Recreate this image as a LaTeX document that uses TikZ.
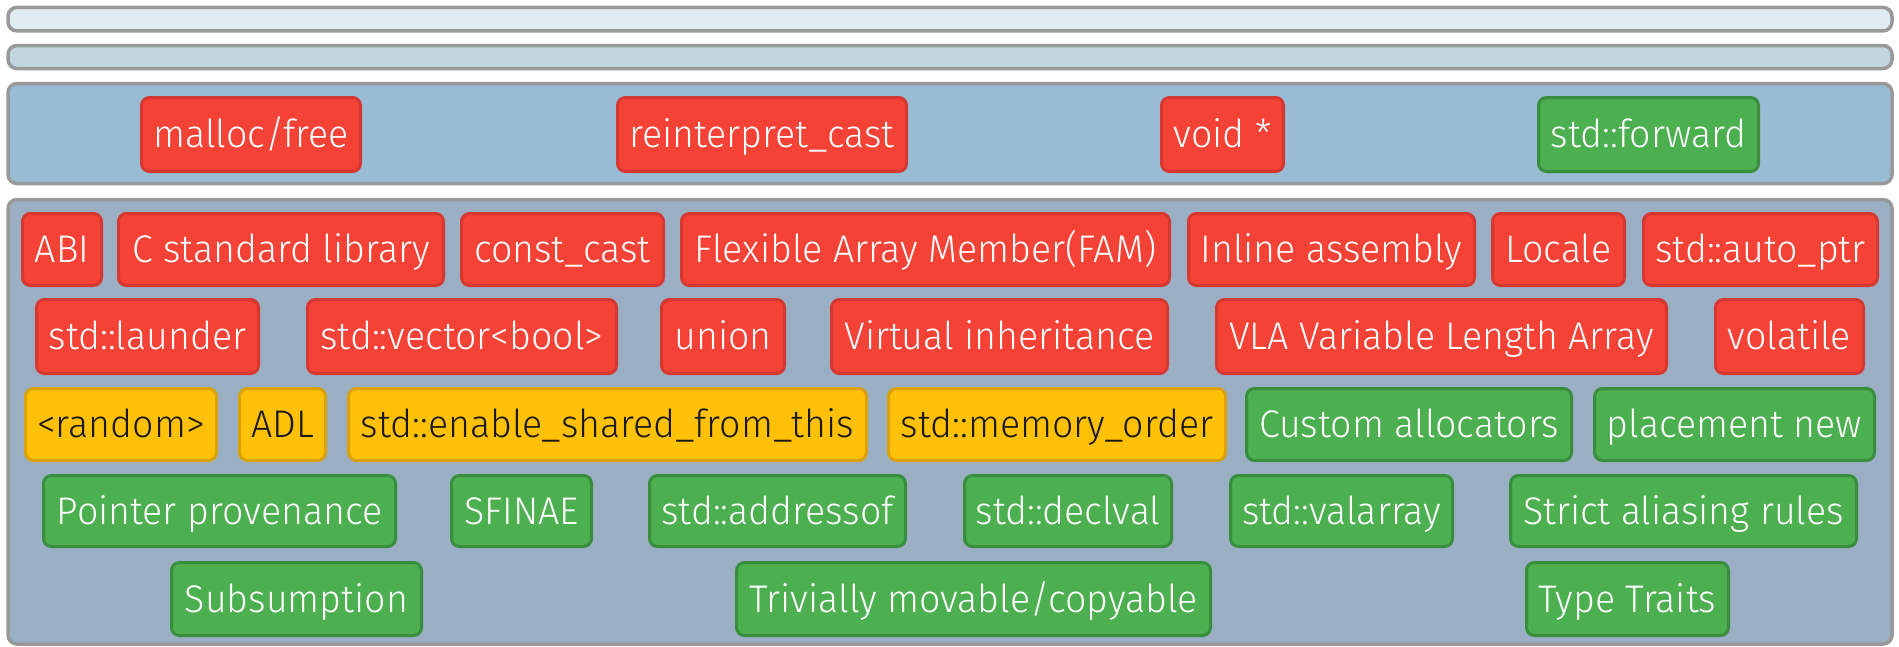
\documentclass[tikz,border=0pt]{standalone}
\usepackage{fontspec}
\IfFileExists{FiraSans-Light.otf}
  {\setmainfont{FiraSans-Light.otf}[FakeStretch=0.975]}
  {\IfFontExistsTF{Fira Sans Light}
    {\setmainfont{Fira Sans Light}[FakeStretch=0.975]}
    {\setmainfont{Fira Sans}[FakeStretch=0.975]}}

\definecolor{tierA}{HTML}{E1ECF2}
\definecolor{tierB}{HTML}{C2D6E0}
\definecolor{tierC}{HTML}{98BCD4}
\definecolor{tierD}{HTML}{9AAFC4}
\definecolor{tierline}{HTML}{999999}
\definecolor{redfill}{HTML}{F44336}
\definecolor{redline}{HTML}{D63730}
\definecolor{greenfill}{HTML}{4CAF50}
\definecolor{greenline}{HTML}{388E3C}
\definecolor{amberfill}{HTML}{FFC107}
\definecolor{amberline}{HTML}{D9A20B}

\tikzset{
  tier/.style={draw=tierline, line width=3.5pt, rounded corners=9pt, inner sep=0pt},
  tag/.style={line width=3pt, rounded corners=8pt, inner sep=0pt,
    font=\fontsize{38.5}{42}\selectfont, text height=26.5pt, text depth=0pt},
  bad/.style={tag, fill=redfill, draw=redline, text=white},
  warn/.style={tag, fill=amberfill, draw=amberline, text=black!90},
  good/.style={tag, fill=greenfill, draw=greenline, text=white},
}

% #1 name, #2 style, #3 left, #4 right, #5 top, #6 bottom (outer edges), #7 text
\newcommand\placebox[7]{%
  \node[#2, minimum width={(#4-#3-3)*1pt}, minimum height={(#6-#5-3)*1pt}]
    (#1) at ({(#3+#4)/2},{(#5+#6)/2}) {#7};}

\begin{document}
\begin{tikzpicture}[x=1pt,y=-1pt]
\useasboundingbox (0,0) rectangle (1899,646);

% tiers
\node[tier, fill=tierA, minimum width=1884pt, minimum height=23.5pt] (t1) at (950,19.2) {};
\node[tier, fill=tierB, minimum width=1884pt, minimum height=23pt] (t2) at (950,57) {};
\node[tier, fill=tierC, minimum width=1884pt, minimum height=100pt] (t3) at (950,133.5) {};
\node[tier, fill=tierD, minimum width=1884pt, minimum height=444.5pt] (t4) at (950,421.8) {};

% third tier
\placebox{malloc}{bad}{140}{362}{96}{173}{malloc/free}
\placebox{reinterpret}{bad}{616}{908}{96}{173}{reinterpret\_cast}
\placebox{voidptr}{bad}{1160}{1285}{96}{173}{void *}
\placebox{forward}{good}{1537}{1760}{96}{173}{std::forward}

% fourth tier, row 1
\placebox{abi}{bad}{21}{103}{212}{287}{ABI}
\placebox{clib}{bad}{117}{445}{212}{287}{C standard library}
\placebox{constcast}{bad}{460}{665}{212}{287}{const\_cast}
\placebox{fam}{bad}{680}{1171}{212}{287}{Flexible Array Member(FAM)}
\placebox{asm}{bad}{1187}{1476}{212}{287}{Inline assembly}
\placebox{locale}{bad}{1491}{1626}{212}{287}{Locale}
\placebox{autoptr}{bad}{1642}{1879}{212}{287}{std::auto\_ptr}

% row 2
\placebox{launder}{bad}{35}{260}{298}{375}{std::launder}
\placebox{vecbool}{bad}{306}{618}{298}{375}{std::vector<bool>}
\placebox{union}{bad}{660}{786}{298}{375}{union}
\placebox{virtinh}{bad}{830}{1169}{298}{375}{Virtual inheritance}
\placebox{vla}{bad}{1215}{1668}{298}{375}{VLA Variable Length Array}
\placebox{volatile}{bad}{1714}{1865}{298}{375}{volatile}

% row 3
\placebox{random}{warn}{24}{218}{387}{462}{<random>}
\placebox{adl}{warn}{238}{327}{387}{462}{ADL}
\placebox{esft}{warn}{347}{868}{387}{462}{std::enable\_shared\_from\_this}
\placebox{memorder}{warn}{887}{1227}{387}{462}{std::memory\_order}
\placebox{alloc}{good}{1245}{1573}{387}{462}{Custom allocators}
\placebox{placement}{good}{1593}{1876}{387}{462}{placement new}

% row 4
\placebox{provenance}{good}{42}{397}{474}{548}{Pointer provenance}
\placebox{sfinae}{good}{450}{593}{474}{548}{SFINAE}
\placebox{addressof}{good}{648}{907}{474}{548}{std::addressof}
\placebox{declval}{good}{963}{1173}{474}{548}{std::declval}
\placebox{valarray}{good}{1229}{1454}{474}{548}{std::valarray}
\placebox{aliasing}{good}{1509}{1858}{474}{548}{Strict aliasing rules}

% row 5
\placebox{subsumption}{good}{170}{423}{561}{637}{Subsumption}
\placebox{trivially}{good}{735}{1212}{561}{637}{Trivially movable/copyable}
\placebox{traits}{good}{1525}{1730}{561}{637}{Type Traits}
\end{tikzpicture}
\end{document}
